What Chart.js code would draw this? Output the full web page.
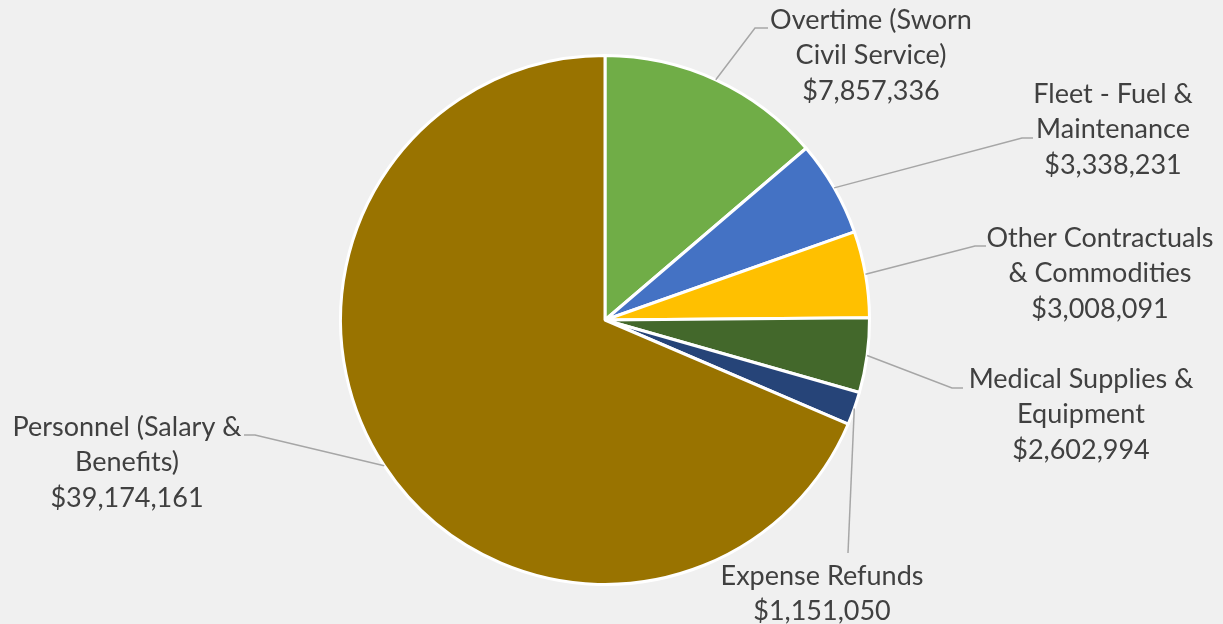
<!DOCTYPE html>
<html>
<head>
<meta charset="utf-8">
<script src="https://cdn.jsdelivr.net/npm/chart.js@4"></script>
<style>
  html, body { margin: 0; padding: 0; background: #f0f0f0; }
  #wrap { width: 1223px; height: 624px; }
</style>
</head>
<body>
<div id="wrap"><canvas id="myChart" width="1223" height="624"></canvas></div>
<script>
// budget categories, each label already broken into its lines
const categories = [
  ["Overtime (Sworn", "Civil Service)"],
  ["Fleet - Fuel &", "Maintenance"],
  ["Other Contractuals", "& Commodities"],
  ["Medical Supplies &", "Equipment"],
  ["Expense Refunds"],
  ["Personnel (Salary &", "Benefits)"]
]
const amounts = [7857336, 3338231, 3008091, 2602994, 1151050, 39174161]
const sliceColors = ["#70AD47", "#4472C4", "#FFC000", "#43682B", "#264478", "#997300"]

// where each label sits: text centre x, first line y, elbow of the leader, end of the leader
const labelSpots = [
  { tx: 871, ty: 20, elbow: [755, 28], end: [768, 28] },
  { tx: 1113, ty: 94, elbow: [1022, 138], end: [1033, 138] },
  { tx: 1100, ty: 238, elbow: [975, 246], end: [986, 246] },
  { tx: 1081, ty: 379, elbow: [952, 388], end: [963, 388] },
  { tx: 822, ty: 576, elbow: [848, 553], end: [848, 553] },
  { tx: 127, ty: 427, elbow: [255, 435], end: [244, 435] }
]

const lineHeight = 35.5

const leaderLabels = {
  id: 'leaderLabels',
  afterDraw(chart) {
    const c = chart.ctx
    const arcs = chart.getDatasetMeta(0).data
    c.save()
    arcs.forEach((arc, i) => {
      const p = arc.getProps(['x', 'y', 'startAngle', 'endAngle', 'outerRadius'], true)
      const mid = (p.startAngle + p.endAngle) / 2
      const sx = p.x + Math.cos(mid) * p.outerRadius
      const sy = p.y + Math.sin(mid) * p.outerRadius
      const spot = labelSpots[i]
      c.strokeStyle = '#a6a6a6'
      c.lineWidth = 1.5
      c.beginPath()
      c.moveTo(sx, sy)
      c.lineTo(spot.elbow[0], spot.elbow[1])
      c.lineTo(spot.end[0], spot.end[1])
      c.stroke()

      const lines = categories[i].concat(['$' + amounts[i].toLocaleString('en-US')])
      c.fillStyle = '#404040'
      c.font = '27px Lato'
      c.textAlign = 'center'
      c.textBaseline = 'middle'
      lines.forEach((t, j) => c.fillText(t, spot.tx, spot.ty + j * lineHeight))
    })
    c.restore()
  }
}

const ctx = document.getElementById('myChart')

new Chart(ctx, {
  type: 'pie',
  data: {
    labels: categories,
    datasets: [{
      data: amounts,
      backgroundColor: sliceColors,
      borderColor: '#ffffff',
      borderWidth: 3
    }]
  },
  options: {
    responsive: false,
    animation: false,
    layout: { padding: { top: 54, bottom: 38, left: 300, right: 313 } },
    plugins: {
      legend: { display: false },
      tooltip: { enabled: false }
    }
  },
  plugins: [leaderLabels]
})
</script>
</body>
</html>
